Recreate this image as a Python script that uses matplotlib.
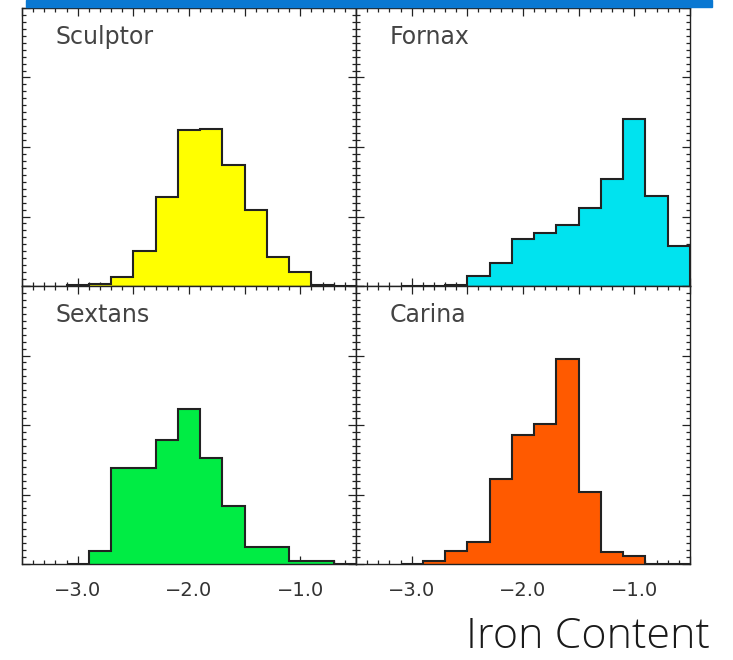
import matplotlib.pyplot as plt
from matplotlib.ticker import MultipleLocator
from matplotlib.patches import Rectangle

# bin edges in [Fe/H], shared by all four galaxies
bin_edges = [-3.1, -2.9, -2.7, -2.5, -2.3, -2.1, -1.9, -1.7, -1.5, -1.3, -1.1, -0.9, -0.7, -0.5]

# fraction of stars per bin
sculptor = [0.001, 0.003, 0.013, 0.051, 0.128, 0.225, 0.226, 0.174, 0.109, 0.042, 0.020, 0.001, 0.0]
fornax = [0.0, 0.0, 0.002, 0.014, 0.033, 0.068, 0.076, 0.088, 0.112, 0.154, 0.240, 0.130, 0.058]
sextans = [0.0, 0.019, 0.138, 0.138, 0.178, 0.223, 0.153, 0.084, 0.025, 0.025, 0.004, 0.004, 0.0]
carina = [0.0, 0.005, 0.018, 0.032, 0.122, 0.185, 0.202, 0.295, 0.104, 0.017, 0.012, 0.0, 0.0]

names = ['Sculptor', 'Fornax', 'Sextans', 'Carina']
series = [sculptor, fornax, sextans, carina]
colours = ['#ffff00', '#00e3ef', '#00ec44', '#ff5a00']

# labelled ticks only at whole units, unlabelled majors every half unit
xticks = [-3.5, -3.0, -2.5, -2.0, -1.5, -1.0, -0.5]
xticklabels = ['', '\u22123.0', '', '\u22122.0', '', '\u22121.0', '']

W, H = 733, 660
fig = plt.figure(figsize=(W / 100, H / 100), dpi=100)

# blue strip along the top edge
fig.patches.append(Rectangle((26 / W, 1 - 7 / H), (712 - 26) / W, 7 / H,
                             transform=fig.transFigure, color='#0a78d2', zorder=0))

# panel boxes in pixels: left, top
x0, x1, x2 = 22, 356, 690
y0, y1, y2 = 8, 286, 564
boxes = [(x0, y0), (x1, y0), (x0, y1), (x1, y1)]
pw, ph = x1 - x0, y1 - y0

for i, (name, vals, col) in enumerate(zip(names, series, colours)):
    left, top = boxes[i]
    ax = fig.add_axes([left / W, 1 - (top + ph) / H, pw / W, ph / H])
    ax.stairs(vals, bin_edges, fill=True, color=col, zorder=2)
    ax.stairs(vals, bin_edges, color='#222222', linewidth=1.5, zorder=3)
    ax.set_xlim(-3.5, -0.5)
    ax.set_ylim(0, 0.4)

    if i >= 2:
        ax.set_xticks(xticks, xticklabels)
        ax.tick_params(axis='x', labelsize=14, pad=12, labelcolor='#333333')
    else:
        ax.xaxis.set_major_locator(MultipleLocator(0.5))
        ax.set_xticklabels([])
    ax.xaxis.set_minor_locator(MultipleLocator(0.1))
    ax.yaxis.set_major_locator(MultipleLocator(0.1))
    ax.yaxis.set_minor_locator(MultipleLocator(0.01))
    ax.set_yticklabels([])
    ax.tick_params(which='both', direction='in', top=True, right=True,
                   width=0.9, color='#222222')
    ax.tick_params(which='major', length=6)
    ax.tick_params(which='minor', length=3)

    for s in ax.spines.values():
        s.set_linewidth(1.0)
        s.set_color('#222222')

    ax.text(0.10, 0.895, name, transform=ax.transAxes, fontsize=17,
            color='#444444', va='center', ha='left')

fig.text(710 / W, 1 - 637 / H, 'Iron Content', fontsize=31, family='Open Sans',
         fontweight='light', color='#1a1a1a', ha='right', va='center')

plt.savefig('out.png', dpi=100)
